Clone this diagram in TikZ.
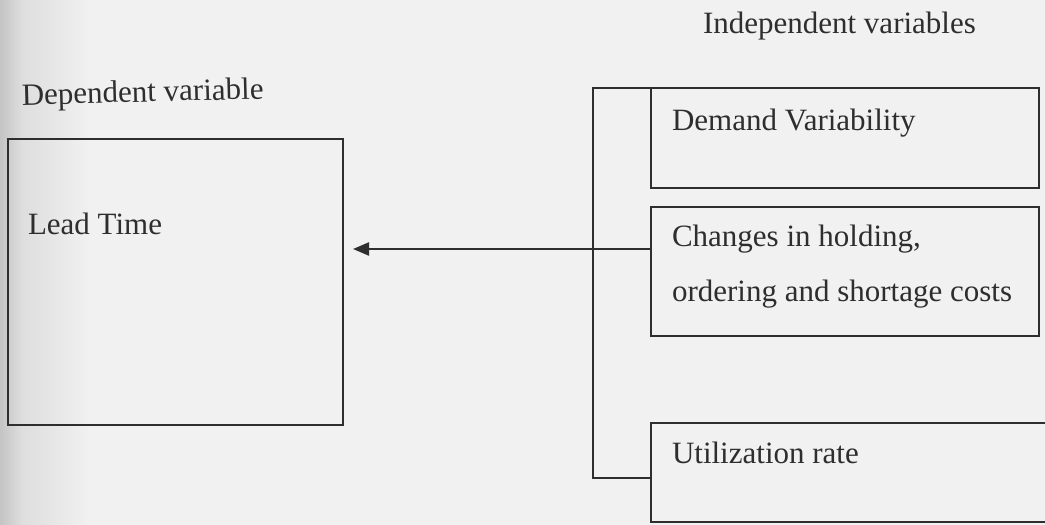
\documentclass[tikz,border=0pt]{standalone}
\usepackage{fontspec}
\setmainfont{Liberation Serif}
\usetikzlibrary{arrows.meta}
\definecolor{paper}{HTML}{F1F1F1}
\definecolor{shadow}{HTML}{C4C4C4}
\definecolor{shadowmid}{HTML}{DEDEDE}
\definecolor{ink}{HTML}{2E2E2E}

\begin{document}
\begin{tikzpicture}[x=1pt,y=-1pt,
  box/.style={draw=ink, line width=2.2pt, rectangle, inner sep=0pt, outer sep=0pt, anchor=north west},
  lbl/.style={text=ink, font=\fontsize{31}{31}\selectfont, anchor=base west, inner sep=0pt, outer sep=0pt},
  link/.style={draw=ink, line width=2.2pt, line join=miter},
  arr/.style={link, -{Triangle[length=16pt,width=13pt]}}]

  % page and scanner shadow along the left edge
  \useasboundingbox (0,0) rectangle (1045,525);
  \fill[paper] (0,0) rectangle (1045,525);
  \shade[left color=shadow, right color=shadowmid] (0,0) rectangle (22,525);
  \shade[left color=shadowmid, right color=paper] (22,0) rectangle (90,525);

  \begin{scope}
    \clip (0,0) rectangle (1045,525);

    % headings
    \node[lbl] (indep) at (703,33) {Independent variables};
    \node[lbl, rotate=1.5] (dep) at (22,105) {Dependent variable};

    % dependent variable box
    \node[box, minimum width=335pt, minimum height=286pt] (lead) at (8,139) {};
    \node[lbl] (leadtxt) at (28,234) {Lead Time};

    % independent variable boxes
    \node[box, minimum width=388pt, minimum height=100pt] (dem) at (651,88) {};
    \node[lbl] (demtxt) at (672,130) {Demand Variability};

    \node[box, minimum width=388pt, minimum height=129pt] (chg) at (651,207) {};
    \node[lbl] (chgtxta) at (672,246) {Changes in holding,};
    \node[lbl] (chgtxtb) at (672,301) {ordering and shortage costs};

    \node[box, minimum width=420pt, minimum height=99pt] (util) at (651,423) {};
    \node[lbl] (utiltxt) at (672,463) {Utilization rate};

    % bracket joining the independent variables
    \coordinate (busbot) at (593,478);
    \coordinate (tip) at (353,249);
    \draw[link] (dem.north west) -| (busbot) -- (util.west |- busbot);

    % arrow towards the dependent variable
    \draw[arr] (chg.west |- tip) -- (tip);
  \end{scope}
\end{tikzpicture}
\end{document}
